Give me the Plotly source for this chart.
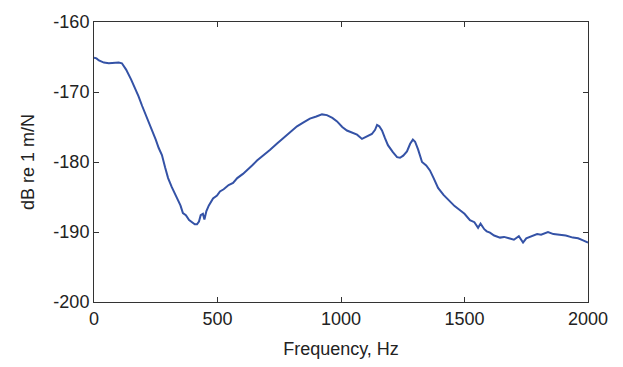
import plotly.graph_objects as go

freq = [0, 10, 20, 40, 60, 80, 100, 113, 130, 150, 166, 180, 195, 214, 225, 235, 250, 262, 275, 288,
        300, 315, 336, 350, 360, 372, 385, 397, 408, 417, 425, 432, 441, 447, 455, 465, 482, 498, 510, 525,
        545, 563, 580, 603, 620, 640, 660, 685, 712, 740, 765, 790, 822, 850, 874, 900, 923, 943, 965, 984,
        1005, 1024, 1045, 1065, 1085, 1105, 1125, 1138, 1146, 1155, 1166, 1178, 1190, 1210, 1227, 1239, 1252, 1267, 1280, 1291,
        1300, 1312, 1328, 1345, 1360, 1375, 1393, 1415, 1441, 1460, 1482, 1500, 1522, 1540, 1555, 1565, 1580, 1590, 1603, 1620,
        1644, 1660, 1680, 1700, 1720, 1737, 1750, 1770, 1794, 1810, 1838, 1860, 1887, 1910, 1939, 1960, 1980, 2000]
level_db = [-165.1, -165.2, -165.5, -165.8, -165.9, -165.8, -165.8, -165.9, -166.8, -168.2, -169.4, -170.6, -172.0, -173.6, -174.6, -175.3, -176.8, -178.0, -179.0, -180.8,
            -182.3, -183.6, -185.1, -186.2, -187.3, -187.6, -188.3, -188.6, -188.9, -188.9, -188.5, -187.6, -187.4, -188.2, -187.0, -186.2, -185.2, -184.8, -184.2, -183.9,
            -183.3, -183.0, -182.3, -181.7, -181.2, -180.5, -179.8, -179.1, -178.3, -177.4, -176.6, -175.8, -174.9, -174.3, -173.8, -173.5, -173.2, -173.3, -173.7, -174.2,
            -175.0, -175.5, -175.8, -176.1, -176.7, -176.3, -176.0, -175.4, -174.7, -174.9, -175.5, -176.6, -177.6, -178.6, -179.3, -179.4, -179.1, -178.5, -177.4, -176.8,
            -177.1, -178.2, -180.0, -180.5, -181.2, -182.3, -183.7, -184.7, -185.6, -186.3, -186.9, -187.4, -188.3, -188.6, -189.4, -188.8, -189.6, -189.9, -190.1, -190.5,
            -190.8, -190.7, -190.9, -191.1, -190.6, -191.5, -190.9, -190.6, -190.3, -190.4, -190.0, -190.3, -190.4, -190.5, -190.8, -190.9, -191.2, -191.5]

x_ticks = [0, 500, 1000, 1500, 2000]
y_ticks = [-200, -190, -180, -170, -160]
y_tick_labels = ["-200", "-190", "-180", "-170", "-160"]

font = dict(family="Liberation Sans, Arial", size=18, color="#222222")

fig = go.Figure(go.Scatter(x=freq, y=level_db, mode="lines",
                           line=dict(color="#3452a6", width=2), showlegend=False))

axis_common = dict(showline=True, linecolor="#333333", linewidth=1, mirror="ticks",
                   ticks="inside", ticklen=5, tickcolor="#333333", showgrid=False, zeroline=False,
                   tickfont=font)

fig.update_xaxes(range=[0, 2000], tickvals=x_ticks, ticktext=[str(v) for v in x_ticks],
                 title=dict(text="Frequency, Hz", font=font, standoff=14),
                 **axis_common)
fig.update_yaxes(range=[-200, -160], tickvals=y_ticks, ticktext=y_tick_labels,
                 title=dict(text="dB re 1 m/N", font=font, standoff=14),
                 **axis_common)

fig.update_layout(width=623, height=367, margin=dict(l=94, r=35, t=16, b=63),
                  paper_bgcolor="white", plot_bgcolor="white")

fig.write_html("out.html")
